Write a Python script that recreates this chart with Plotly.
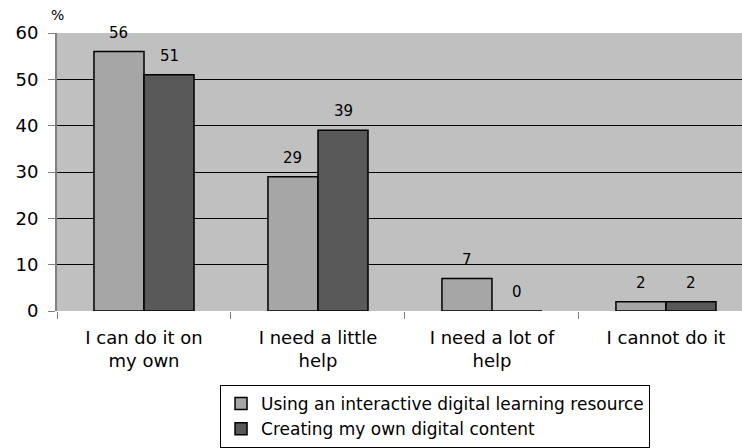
import plotly.graph_objects as go

categories = ["I can do it on<br>my own", "I need a little<br>help", "I need a lot of<br>help", "I cannot do it"]
series_names = ["Using an interactive digital learning resource", "Creating my own digital content"]
using_resource = [56, 29, 7, 2]
own_content = [51, 39, 0, 2]
y_ticks = [0, 10, 20, 30, 40, 50, 60]

FONT = "DejaVu Sans, Liberation Sans, Arial, sans-serif"
colors = ["#a6a6a6", "#595959"]
BARGAP = 0.425

fig = go.Figure()
series = [using_resource, own_content]
for name, vals, col in zip(series_names, series, colors):
    fig.add_trace(go.Bar(
        x=categories, y=vals, name=name,
        marker=dict(color=col, line=dict(color="#000000", width=1.5)),
    ))

# value labels above each bar, placed at the bar's own value
annotations = []
half = (1 - BARGAP) / 2
for j, vals in enumerate(series):
    for i, v in enumerate(vals):
        annotations.append(dict(
            x=i + (j - 0.5) * half, y=v, xref="x", yref="y",
            text=str(v), showarrow=False, xanchor="center", yanchor="bottom",
            yshift=8, font=dict(family=FONT, size=15, color="#000000"),
        ))
# unit label above the value axis
annotations.append(dict(text="%", xref="paper", yref="paper", x=0.001, y=1.028,
                        xanchor="center", yanchor="bottom", showarrow=False,
                        font=dict(family=FONT, size=14, color="#000000")))

fig.update_layout(
    width=742, height=448,
    margin=dict(l=57, r=0, t=33, b=134),
    paper_bgcolor="#ffffff", plot_bgcolor="#c0c0c0",
    barmode="group", bargap=BARGAP, bargroupgap=0,
    font=dict(family=FONT, size=18, color="#000000"),
    showlegend=True,
    legend=dict(
        orientation="v", x=0.238, y=-0.267, xanchor="left", yanchor="top",
        bordercolor="#000000", borderwidth=1, bgcolor="#ffffff",
        font=dict(family=FONT, size=17, color="#000000"),
        itemwidth=30, tracegroupgap=0,
    ),
    annotations=annotations,
)
fig.update_xaxes(
    range=[-0.5, 3.437], tickson="boundaries", ticks="outside", ticklen=7,
    tickcolor="#808080", showline=False, showgrid=False, zeroline=False,
    ticklabelstandoff=14, tickfont=dict(family=FONT, size=18),
)
fig.update_yaxes(
    range=[0, 60], tickvals=y_ticks, ticks="outside", ticklen=7,
    tickcolor="#808080", showline=True, linecolor="#808080", linewidth=2,
    showgrid=True, gridcolor="#000000", gridwidth=1, zeroline=False,
    ticklabelstandoff=6, tickfont=dict(family=FONT, size=18),
)

fig.write_html("out.html")
